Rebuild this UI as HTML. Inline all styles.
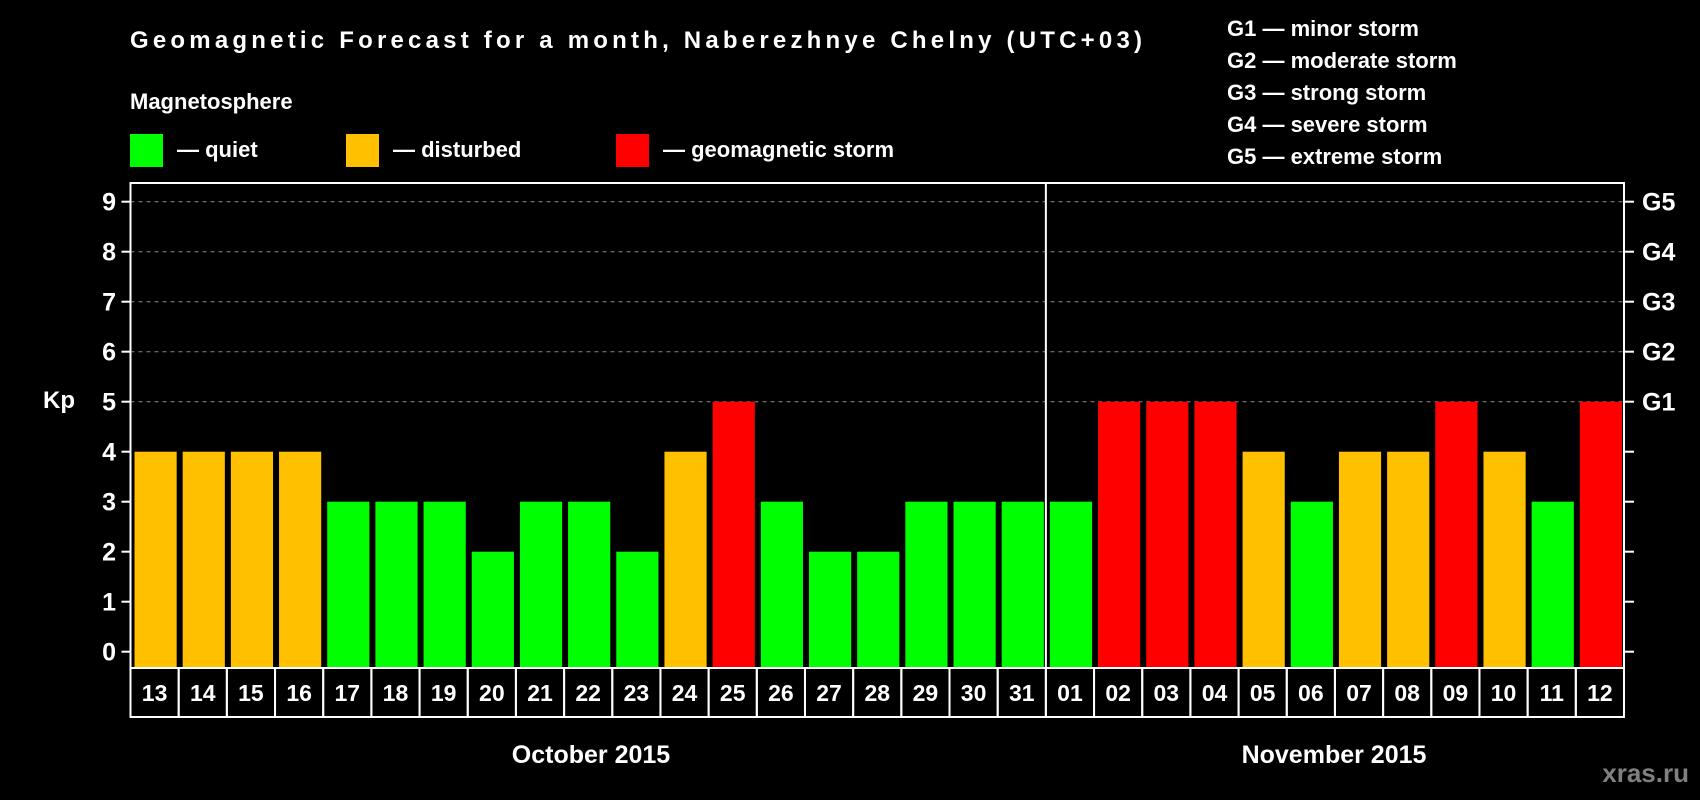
<!DOCTYPE html>
<html><head><meta charset="utf-8"><style>
html,body{margin:0;padding:0;background:#000;}
svg{display:block;font-family:"Liberation Sans",Arial,sans-serif;font-weight:bold;}
</style></head><body>
<svg id="chart" width="1700" height="800" viewBox="0 0 1700 800" xmlns="http://www.w3.org/2000/svg">
<rect x="0" y="0" width="1700" height="800" fill="#000"/>
<text x="130" y="48" fill="#fff" font-size="24" textLength="1012">Geomagnetic Forecast for a month, Naberezhnye Chelny (UTC+03)</text>
<text x="130" y="109" fill="#fff" font-size="22">Magnetosphere</text>
<g>
<rect x="130" y="134" width="33" height="33" fill="#00ff00"/>
<text x="177" y="157" fill="#fff" font-size="22">— quiet</text></g>
<g>
<rect x="346" y="134" width="33" height="33" fill="#ffc000"/>
<text x="393" y="157" fill="#fff" font-size="22">— disturbed</text></g>
<g>
<rect x="616" y="134" width="33" height="33" fill="#ff0000"/>
<text x="663" y="157" fill="#fff" font-size="22">— geomagnetic storm</text></g>
<g fill="#fff" font-size="22">
<text x="1227" y="36">G1 — minor storm</text>
<text x="1227" y="68">G2 — moderate storm</text>
<text x="1227" y="100">G3 — strong storm</text>
<text x="1227" y="132">G4 — severe storm</text>
<text x="1227" y="164">G5 — extreme storm</text>
</g>
<text x="43" y="408" fill="#fff" font-size="24">Kp</text>
<text x="591" y="763" fill="#fff" font-size="25" text-anchor="middle">October 2015</text>
<text x="1334" y="763" fill="#fff" font-size="25" text-anchor="middle">November 2015</text>
<text x="1689" y="782" fill="#808080" font-size="26" text-anchor="end">xras.ru</text>
<g id="plot"></g>
</svg>
<script>
const days = ["13","14","15","16","17","18","19","20","21","22","23","24","25","26","27","28","29","30","31","01","02","03","04","05","06","07","08","09","10","11","12"];
const kpValues = [4,4,4,4,3,3,3,2,3,3,2,4,5,3,2,2,3,3,3,3,5,5,5,4,3,4,4,5,4,3,5];
const yTicks = [0,1,2,3,4,5,6,7,8,9];
const gLabels = ["G1","G2","G3","G4","G5"];
const gLevels = [5,6,7,8,9];

const NS="http://www.w3.org/2000/svg";
const plot=document.getElementById('plot');
const L=130.5,R=1624,T=183,B=668,Y0=651.7,UNIT=50;
const slot=(R-L)/days.length;
const y=v=>Y0-v*UNIT;
const x=i=>L+i*slot;
function mk(tag,a){const e=document.createElementNS(NS,tag);for(const k in a)e.setAttribute(k,a[k]);plot.appendChild(e);return e;}
// grid
gLevels.forEach(v=>{
  const g=mk('line',{x1:L,x2:R,y1:y(v),y2:y(v),stroke:'#888','stroke-width':1,'stroke-dasharray':'4,4'});
  
  
});
// bars
kpValues.forEach((v,i)=>{
  const c=v>=5?'#ff0000':(v>=4?'#ffc000':'#00ff00');
  const r=mk('rect',{x:x(i)+4,y:y(v),width:slot-6,height:B-y(v),fill:c});
  
  
});
// frame
const f=mk('rect',{x:L,y:T,width:R-L,height:B-T,fill:'none',stroke:'#fff','stroke-width':2});


const sep=mk('line',{x1:x(19),x2:x(19),y1:T,y2:B,stroke:'#fff','stroke-width':2});


// y ticks
yTicks.forEach(v=>{
  const t=mk('line',{x1:L-9,x2:L,y1:y(v),y2:y(v),stroke:'#fff','stroke-width':2});
  
  
  const t2=mk('line',{x1:R,x2:R+10,y1:y(v),y2:y(v),stroke:'#fff','stroke-width':2});
  
  
  const l=mk('text',{x:116,y:y(v)+9,fill:'#fff','font-size':25,'text-anchor':'end'});
  l.textContent=v;
  
  
});
gLevels.forEach((v,i)=>{
  const l=mk('text',{x:1642,y:y(v)+9,fill:'#fff','font-size':25});
  l.textContent=gLabels[i];
  
  
});
// day label boxes
days.forEach((d,i)=>{
  const r=mk('rect',{x:x(i),y:B,width:slot,height:49,fill:'none',stroke:'#fff','stroke-width':2});
  
  
  const t=mk('text',{x:x(i)+slot/2,y:B+33,fill:'#fff','font-size':23,'text-anchor':'middle'});
  t.textContent=d;
  
  
});
</script>
</body></html>
